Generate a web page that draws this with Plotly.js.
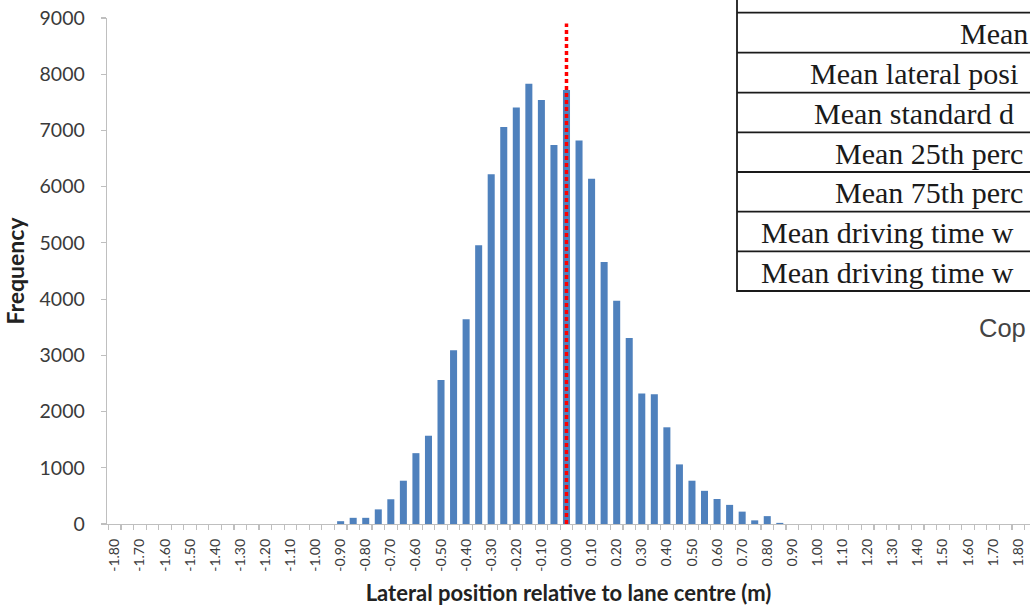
<!DOCTYPE html>
<html>
<head>
<meta charset="utf-8">
<script src="https://cdn.plot.ly/plotly-3.0.1.min.js"></script>
<style>html,body{margin:0;padding:0;background:#fff;overflow:hidden}#chart{width:1030px;height:607px}</style>
</head>
<body>
<div id="chart"></div>
<script>
// ---- data ----
const binCentres = [-0.90,-0.85,-0.80,-0.75,-0.70,-0.65,-0.60,-0.55,-0.50,-0.45,-0.40,-0.35,-0.30,-0.25,-0.20,-0.15,-0.10,-0.05,0.00,0.05,0.10,0.15,0.20,0.25,0.30,0.35,0.40,0.45,0.50,0.55,0.60,0.65,0.70,0.75,0.80,0.85];
const frequency  = [50,110,110,260,440,770,1260,1570,2560,3090,3640,4960,6220,7060,7410,7830,7540,6740,7720,6820,6140,4660,3970,3310,2320,2310,1720,1060,770,590,445,340,220,65,140,20];
const tickValues = [-1.8,-1.7,-1.6,-1.5,-1.4,-1.3,-1.2,-1.1,-1.0,-0.9,-0.8,-0.7,-0.6,-0.5,-0.4,-0.3,-0.2,-0.1,0.0,0.1,0.2,0.3,0.4,0.5,0.6,0.7,0.8,0.9,1.0,1.1,1.2,1.3,1.4,1.5,1.6,1.7,1.8];
const tickLabels = ["-1.80","-1.70","-1.60","-1.50","-1.40","-1.30","-1.20","-1.10","-1.00","-0.90","-0.80","-0.70","-0.60","-0.50","-0.40","-0.30","-0.20","-0.10","0.00","0.10","0.20","0.30","0.40","0.50","0.60","0.70","0.80","0.90","1.00","1.10","1.20","1.30","1.40","1.50","1.60","1.70","1.80"];
const laneCentre = 0.0;
const tableRows = ["Mean","Mean lateral posi","Mean standard d","Mean 25th perc","Mean 75th perc","Mean driving time w","Mean driving time w"];
const footText = "Cop";

// ---- layout geometry (pixels) ----
const W = 1030, H = 607, ML = 107, MR = 0, MT = 18, MB = 83;
const PW = W - ML - MR, PH = H - MT - MB;
const px = v => (v - ML) / PW;
const py = v => (H - MB - v) / PH;

const axisGrey = '#BFBFBF';
const textGrey = '#3a3a3a';

const shapes = [];
// lane centre reference line
shapes.push({type:'line', xref:'x', yref:'y', x0:laneCentre, x1:laneCentre, y0:0, y1:8900,
  line:{color:'#FF0000', width:3.5, dash:'4px,3px'}, layer:'above'});
// table borders
const tableLeft = 737;
const rowLines = [12.7, 52.7, 92.7, 132.3, 172, 211.7, 251.3, 291];
shapes.push({type:'line', xref:'paper', yref:'paper', x0:px(tableLeft), x1:px(tableLeft), y0:py(-2), y1:py(292),
  line:{color:'#1a1a1a', width:1.8}});
rowLines.forEach(y => shapes.push({type:'line', xref:'paper', yref:'paper', x0:px(tableLeft), x1:px(W+5), y0:py(y), y1:py(y),
  line:{color:'#1a1a1a', width:1.8}}));

const rowStarts = [958, 808, 812, 833, 833, 759, 759];
const annotations = tableRows.map((t,i) => ({
  text: t, xref:'paper', yref:'paper', x:px(rowStarts[i]), y:py((rowLines[i]+rowLines[i+1])/2 + 1),
  xanchor:'left', yanchor:'middle', showarrow:false,
  font:{family:'Liberation Serif, Times New Roman, serif', size:30, color:'#1a1a1a'}
}));
annotations.push({text: footText, xref:'paper', yref:'paper', x:px(977), y:py(328),
  xanchor:'left', yanchor:'middle', showarrow:false,
  font:{family:'Liberation Sans, Arial, sans-serif', size:25.5, color:'#444444'}});

const trace = {
  type:'bar', x: binCentres, y: frequency, width: 0.028,
  marker:{color:'#4F81BD', line:{width:0}}, hoverinfo:'x+y'
};

const layout = {
  width: W, height: H,
  margin:{l:ML, r:MR, t:MT, b:MB, pad:0},
  paper_bgcolor:'#ffffff', plot_bgcolor:'#ffffff',
  showlegend:false,
  font:{family:'Lato, Carlito, Calibri, sans-serif', color:textGrey},
  xaxis:{
    range:[-1.831, 1.847], showgrid:false, zeroline:false,
    showline:true, linecolor:axisGrey, linewidth:1.3,
    tickmode:'array', tickvals: tickValues, ticktext: tickLabels,
    tickangle:-90, ticks:'', tickfont:{size:14, color:textGrey, family:'Lato, sans-serif'},
    ticklabelstandoff: 8,
    minor:{tickmode:'linear', tick0:-1.825, dtick:0.05, ticks:'outside', ticklen:5, tickcolor:axisGrey, tickwidth:1.2, showgrid:false},
    title:{text:'<b>Lateral position relative to lane centre (m)</b>', font:{size:22, color:'#222222', family:'Lato, sans-serif'}, standoff:14}
  },
  yaxis:{
    range:[0, 9000], dtick:1000, showgrid:false, zeroline:false,
    showline:true, linecolor:axisGrey, linewidth:1.3,
    ticks:'outside', ticklen:5, tickcolor:axisGrey, tickwidth:1.2,
    tickfont:{size:19.5, color:textGrey, family:'Lato, sans-serif'},
    ticklabelstandoff: 12,
    title:{text:'<b>Frequency</b>', font:{size:23, color:'#222222', family:'Lato, sans-serif'}, standoff:8}
  },
  shapes: shapes,
  annotations: annotations
};

Plotly.newPlot('chart', [trace], layout, {displayModeBar:false, staticPlot:true});
</script>
</body>
</html>
